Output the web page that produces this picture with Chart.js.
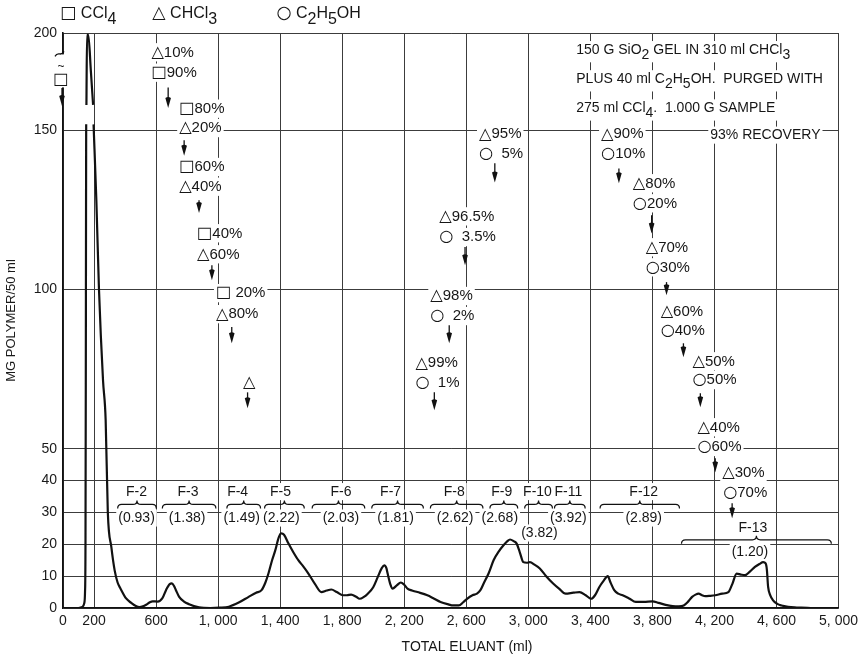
<!DOCTYPE html>
<html><head><meta charset="utf-8">
<script src="https://cdn.jsdelivr.net/npm/chart.js@4.4.1/dist/chart.umd.min.js"></script>
<style>html,body{margin:0;padding:0;background:#fff}#wrap{width:863px;height:660px;position:relative}</style>
</head><body><div id="wrap"><canvas id="c" width="863" height="660"></canvas></div>
<script>
// ---------- DATA ----------
const eluantMl = [0,60,100,125,137,142,145,147,148.5,149.5,150,151,155,163,180,194,195,197,215,232,258,275,289,312,333,352,372,407,440,470,493,515,536,560,578,610,640,664,688,702,715,728,749,780,813,877,950,1010,1069,1133,1197,1245,1280,1305,1325,1348,1368,1390,1406,1425,1453,1485,1517,1550,1581,1625,1666,1700,1730,1765,1805,1830,1858,1890,1912,1940,1965,2000,2029,2055,2072,2085,2093,2110,2125,2150,2178,2200,2221,2250,2285,2349,2390,2434,2480,2518,2552,2580,2605,2640,2669,2690,2712,2745,2776,2810,2840,2865,2882,2905,2925,2945,2968,2990,3010,3040,3074,3115,3160,3200,3240,3290,3330,3370,3405,3430,3458,3485,3512,3530,3554,3580,3608,3650,3693,3745,3800,3840,3885,3930,3970,4002,4030,4056,4078,4098,4120,4141,4170,4205,4250,4290,4315,4343,4370,4397,4430,4461,4490,4514,4530,4538,4546,4560,4578,4605,4632,4675,4717,4760,4820];
const polymerMg = [0,0,0,0.3,1.5,5,20,71,125,153,null,163,199,199,180,163,null,153,128,100,71.5,59,30,19,11.8,8,6,3,1.6,0.6,0.3,0.5,1,1.8,2.1,2,3,5.6,7.5,7.7,7,5.6,3.5,2,1.2,0.2,0,0.1,0.4,1.7,3.5,4.8,5.6,8,10.9,15,18,22,23.4,23,20.3,17.5,15,13,10.9,7.5,5,5.5,5.8,5,4,4,4.2,3.5,2.9,3.5,4.5,6.5,9.7,12.5,13.4,12.5,10.8,7.5,6.1,7,8,7.3,6.1,5.5,5,4,3,1.9,1.2,0.8,0.8,1.8,2.9,4,4.5,5.5,7.7,11,15,17.8,19.7,21,21.5,21,20.2,17.5,14.4,14.2,14.4,13.6,12.4,10,7.7,6,4.5,4.8,5,4,2.9,4,6.6,8.5,10,8,5.6,4.5,4,3,1.9,1.9,2.1,1.6,1,0.6,0.5,0.8,2,3.5,4.2,4.5,4,3.7,3.8,4,4.5,5,7.5,10.8,10.5,10.3,11.5,12.9,13.8,14.4,14,12,6.6,4,2.4,1.3,0.8,0.4,0.2,0.1,0];

const xTickValues = [0,200,600,1000,1400,1800,2200,2600,3000,3400,3800,4200,4600,5000];
const xTickLabels = ['0','200','600','1, 000','1, 400','1, 800','2, 200','2, 600','3, 000','3, 400','3, 800','4, 200','4, 600','5, 000'];
const yTickValues = [0,10,20,30,40,50,100,150,200];
const yTickLabels = ['0','10','20','30','40','50','100','150','200'];

const fractionNames   = ['F-2','F-3','F-4','F-5','F-6','F-7','F-8','F-9','F-10','F-11','F-12','F-13'];
const fractionWeights = ['(0.93)','(1.38)','(1.49)','(2.22)','(2.03)','(1.81)','(2.62)','(2.68)','(3.82)','(3.92)','(2.89)','(1.20)'];
const fractionStartMl = [346,634,1050,1293,1600,1984,2362,2746,2970,3162,3456,3981];
const fractionEndMl   = [608,992,1280,1562,1952,2330,2714,2938,3162,3373,3981,4960];

const solventLegend = ['□ CCl_4','△ CHCl_3','○ C_2H_5OH'];
const solventSteps = ['△10%','□90%','□80%','△20%','□60%','△40%','□40%','△60%','□ 20%','△80%','△',
  '△95%','○  5%','△96.5%','○  3.5%','△98%','○  2%','△99%','○  1%',
  '△90%','○10%','△80%','○20%','△70%','○30%','△60%','○40%','△50%','○50%','△40%','○60%','△30%','○70%'];
const noteLines = ['150 G SiO_2 GEL IN 310 ml CHCl_3','PLUS 40 ml C_2H_5OH.  PURGED WITH','275 ml CCl_4.  1.000 G SAMPLE','93% RECOVERY'];
const xTitle = 'TOTAL ELUANT (ml)';
const yTitle = 'MG POLYMER/50 ml';

// ---------- LAYOUT (positions in data units, styles) ----------
const FONT = '"Liberation Sans", Arial, "DejaVu Sans", sans-serif';
const SYMBOL_FONT = '"DejaVu Sans", sans-serif';
const SYMBOLS = '□△○';
const BREAK_VALUE = 150, BREAK_FRACTION = 0.831;
const legendPos = [[-19,210],[576,210],[1376,210]];
const stepPos = [[570,190],[570,179.5],[749,161],[749,151],[749,138.4],[749,132.2],[864,117.6],[864,111],[986,98.8],[986,92.2],[1160,70.6],
  [2682,148.7],[2682,142.7],[2426,122.9],[2426,116.4],[2368,97.9],[2368,91.6],[2272,76.8],[2272,70.6],
  [3469,148.7],[3469,142.7],[3674,133.3],[3674,127],[3757,113.2],[3757,106.9],[3853,92.9],[3853,86.9],[4058,77.4],[4058,71.5],[4090,56.7],[4090,50.5],[4250,42.3],[4256,36.3]];
const arrowPos = [[678,172,161.4],[781,146.8,142],[877,128,124],[960,107.6,102.9],[1088,88.2,83.1],[1190,67.7,62.7],
  [2784,139.6,133.6],[2592,113.3,107.6],[2490,88.8,83.1],[2394,67.7,62.1],
  [3584,138,133.3],[3795,123.3,117.6],[3891,102.3,98.2],[4000,83.1,78.7],[4109,67.4,63],[4205,47,42.6],[4314,32.9,28.2]];
const notePos = [[3309,191.4],[3309,176.4],[3309,161.4],[4173,148.4]];
const nameY = 36.5, braceY = 32.5, weightY = 28.2;
const specialWeightY = {8:23.5, 11:17.5};
const specialNameY = {11:25.1};
const specialBraceY = {11:21.4};
const nameCenterMl = [474,806,1126,1402,1792,2112,2522,2829,3059,3258,3744,4448];
const weightCenterMl = [474,800,1152,1408,1792,2144,2528,2816,3072,3258,3744,4429];

// ---------- broken y scale ----------
class BrokenLinearScale extends Chart.LinearScale {
  _dec(v) {
    const f = BREAK_FRACTION;
    if (v <= BREAK_VALUE) return v / BREAK_VALUE * f;
    return f + (v - BREAK_VALUE) / (this.max - BREAK_VALUE) * (1 - f);
  }
  getPixelForValue(v) {
    if (v === null || v === undefined || Number.isNaN(v)) return NaN;
    return this.getPixelForDecimal(this._dec(v));
  }
  getValueForPixel(p) {
    const d = this.getDecimalForPixel(p), f = BREAK_FRACTION;
    if (d <= f) return d / f * BREAK_VALUE;
    return BREAK_VALUE + (d - f) / (1 - f) * (this.max - BREAK_VALUE);
  }
}
BrokenLinearScale.id = 'brokenLinear';
BrokenLinearScale.defaults = Chart.LinearScale.defaults;
Chart.register(BrokenLinearScale);

// ---------- text helpers ----------
function parseRich(s){
  const r=[];let cur='';
  const push=()=>{if(cur)r.push({t:cur,sub:false,sym:false});cur='';};
  for(let i=0;i<s.length;i++){
    if(s[i]==='_'){push();r.push({t:s[i+1],sub:true,sym:false});i++;}
    else if(SYMBOLS.includes(s[i])){push();r.push({t:s[i],sub:false,sym:true});}
    else cur+=s[i];
  }
  push();return r;
}
function fontFor(r, size){ return r.sym ? (size*1.08).toFixed(1) + 'px ' + SYMBOL_FONT : size + 'px ' + FONT; }
function drawRich(ctx, s, x, y, size, align, bg){
  const runs = parseRich(s);
  let w = 0; runs.forEach(r => { ctx.font = fontFor(r, size); r.w = ctx.measureText(r.t).width; w += r.w; });
  let x0 = align === 'center' ? x - w/2 : x;
  const hasSub = runs.some(r => r.sub);
  if (bg) { ctx.fillStyle = '#fff'; ctx.fillRect(x0 - 2, y - size*0.62, w + 4, size*1.22 + (hasSub ? size*0.3 : 0)); }
  ctx.fillStyle = '#161616'; ctx.textBaseline = 'middle'; ctx.textAlign = 'left';
  runs.forEach(r => { ctx.font = fontFor(r, size); ctx.fillText(r.t, x0, r.sub ? y + size*0.4 : y); x0 += r.w; });
}
function drawArrow(ctx, x, y1, y2){
  ctx.strokeStyle = '#111'; ctx.fillStyle = '#111'; ctx.lineWidth = 1.3;
  ctx.beginPath(); ctx.moveTo(x, y1); ctx.lineTo(x, y2 - 6); ctx.stroke();
  ctx.beginPath(); ctx.moveTo(x - 2.8, y2 - 10); ctx.quadraticCurveTo(x, y2 - 12, x + 2.8, y2 - 10); ctx.lineTo(x, y2); ctx.closePath(); ctx.fill();
}
function drawBrace(ctx, x1, x2, y, h){
  const m = (x1 + x2) / 2;
  ctx.strokeStyle = '#111'; ctx.lineWidth = 1.2;
  ctx.beginPath(); ctx.moveTo(x1, y + h); ctx.quadraticCurveTo(x1, y, x1 + h, y); ctx.lineTo(m - h, y);
  ctx.quadraticCurveTo(m, y, m, y - h); ctx.quadraticCurveTo(m, y, m + h, y); ctx.lineTo(x2 - h, y);
  ctx.quadraticCurveTo(x2, y, x2, y + h); ctx.stroke();
}

const annotationPlugin = {
  id: 'annotations',
  beforeDatasetsDraw(chart) {
    const {ctx, scales: {x, y}} = chart;
    const X = v => x.getPixelForValue(v), Y = v => y.getPixelForValue(v);
    ctx.save();
    // left axis break & CCl4 marker
    const x0 = X(0);
    ctx.fillStyle = '#fff'; ctx.fillRect(x0 - 4, Y(189), 8, Y(172) - Y(189));
    ctx.strokeStyle = '#111'; ctx.lineWidth = 1.3;
    const ya = Y(189.5);
    ctx.beginPath(); ctx.moveTo(x0 - 8, ya + 3); ctx.bezierCurveTo(x0 - 5, ya - 3, x0 - 2, ya + 4, x0 + 1, ya - 2); ctx.stroke();
    drawRich(ctx, '~', x0 - 2, Y(182.5), 12, 'center', false);
    drawRich(ctx, '□', x0 - 2, Y(176), 15, 'center', false);
    drawArrow(ctx, x0 - 1, Y(171.7), Y(162.4));
    // legend
    solventLegend.forEach((t, i) => drawRich(ctx, t, X(legendPos[i][0]), Y(legendPos[i][1]), 16, 'left', false));
    // note block
    noteLines.forEach((t, i) => drawRich(ctx, t, X(notePos[i][0]), Y(notePos[i][1]), 14, 'left', true));
    // solvent step labels and arrows
    solventSteps.forEach((t, i) => drawRich(ctx, t, X(stepPos[i][0]), Y(stepPos[i][1]), 15, 'left', true));
    arrowPos.forEach(a => drawArrow(ctx, X(a[0]), Y(a[1]), Y(a[2])));
    // fractions
    fractionNames.forEach((n, i) => {
      drawRich(ctx, n, X(nameCenterMl[i]), Y(specialNameY[i] ?? nameY), 14, 'center', true);
      drawBrace(ctx, X(fractionStartMl[i]) + 1, X(fractionEndMl[i]) - 1, Y(specialBraceY[i] ?? braceY), 4);
      drawRich(ctx, fractionWeights[i], X(weightCenterMl[i]), Y(specialWeightY[i] ?? weightY), 14, 'center', true);
    });
    // x title
    drawRich(ctx, xTitle, X(2605), Y(-12.3), 14, 'center', false);
    ctx.restore();
  }
};

new Chart(document.getElementById('c'), {
  type: 'line',
  data: { datasets: [{
    data: eluantMl.map((m, i) => ({x: m, y: polymerMg[i]})),
    borderColor: '#111', borderWidth: 2.2, pointRadius: 0, fill: false,
    cubicInterpolationMode: 'monotone', spanGaps: false
  }]},
  options: {
    responsive: false, animation: false, devicePixelRatio: 1,
    layout: { padding: { top: 33, right: 19, left: 0, bottom: 0 } },
    plugins: { legend: { display: false }, tooltip: { enabled: false } },
    scales: {
      x: {
        type: 'linear', min: 0, max: 5000,
        afterBuildTicks: s => { s.ticks = xTickValues.map(v => ({value: v})); },
        afterFit: s => { s.height = 52; },
        grid: { color: '#3c3c3c', lineWidth: 1, drawTicks: false },
        border: { color: '#111', width: 1.6 },
        ticks: { padding: 5, maxRotation: 0, autoSkip: false, color: '#1a1a1a', font: { family: FONT, size: 14 },
          callback: (v, i) => xTickLabels[i] }
      },
      y: {
        type: 'brokenLinear', min: 0, max: 200,
        afterBuildTicks: s => { s.ticks = yTickValues.map(v => ({value: v})); },
        afterFit: s => { s.width = 63; },
        grid: { color: '#3c3c3c', lineWidth: 1, drawTicks: false },
        border: { color: '#111', width: 1.6 },
        title: { display: true, text: yTitle, color: '#1a1a1a', font: { family: FONT, size: 13 }, padding: { top: 4, bottom: 0 } },
        ticks: { padding: 6, autoSkip: false, color: '#1a1a1a', font: { family: FONT, size: 14 },
          callback: (v, i) => yTickLabels[i] }
      }
    }
  },
  plugins: [annotationPlugin]
});
</script></body></html>
